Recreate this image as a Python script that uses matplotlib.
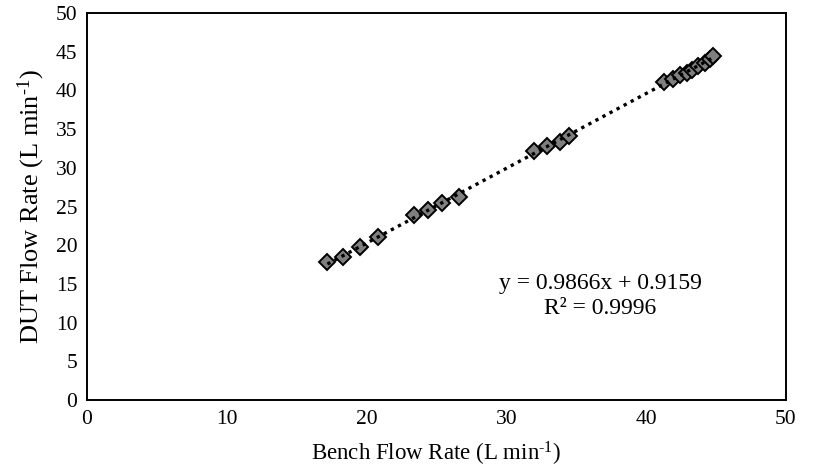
import numpy as np
import matplotlib
matplotlib.use("Agg")
import matplotlib.pyplot as plt

plt.rcParams['font.family'] = ['Liberation Serif', 'DejaVu Serif']
plt.rcParams['mathtext.fontset'] = 'custom'
plt.rcParams['mathtext.rm'] = 'Liberation Serif'
plt.rcParams['mathtext.it'] = 'Liberation Serif:italic'

bench = [17.2, 18.3, 19.5, 20.8,
         23.4, 24.4, 25.4, 26.6,
         32.0, 32.9, 33.8, 34.5,
         41.3, 41.9, 42.4, 42.9, 43.3, 43.7, 44.2, 44.6, 44.8]
dut = [17.8, 18.5, 19.8, 21.0,
       23.9, 24.5, 25.4, 26.2,
       32.2, 32.8, 33.3, 34.1,
       41.1, 41.5, 42.0, 42.3, 42.7, 43.2, 43.6, 44.0, 44.4]
x_ticks = [0, 10, 20, 30, 40, 50]
y_ticks = [0, 5, 10, 15, 20, 25, 30, 35, 40, 45, 50]
eq_text = "y = 0.9866x + 0.9159\nR² = 0.9996"

fig = plt.figure(figsize=(8.15, 4.71), dpi=100)
ax = fig.add_axes([0.1067, 0.1507, 0.8577, 0.8217])

bx = np.array(bench)
by = np.array(dut)
ax.plot(bx, by, linestyle='none', marker='D', markersize=8.4,
        markerfacecolor='#7f7f7f', markeredgecolor='black',
        markeredgewidth=1.4, zorder=3)

coef = np.polyfit(bx, by, 1)
xl = np.array([bx.min(), bx.max()])
ax.plot(xl, np.polyval(coef, xl), color='black', linestyle=(0, (1, 1.4)),
        linewidth=2.4, zorder=4)

ax.text(36.7, 13.45, eq_text, ha='center', va='center', fontsize=17,
        linespacing=1.25)

ax.set_xlim(0, 50)
ax.set_ylim(0, 50)
ax.set_xticks(x_ticks)
ax.set_yticks(y_ticks)
ax.tick_params(length=0, labelsize=15.5, pad=7)
for s in ax.spines.values():
    s.set_linewidth(1.4)
    s.set_color('black')

ax.set_xlabel(r"Bench Flow Rate (L min$^{\text{-1}}$)", fontsize=16.5, labelpad=8)
ax.set_ylabel(r"DUT Flow Rate (L min$^{\text{-1}}$)", fontsize=19, labelpad=6)

fig.savefig("out.png", dpi=100)
